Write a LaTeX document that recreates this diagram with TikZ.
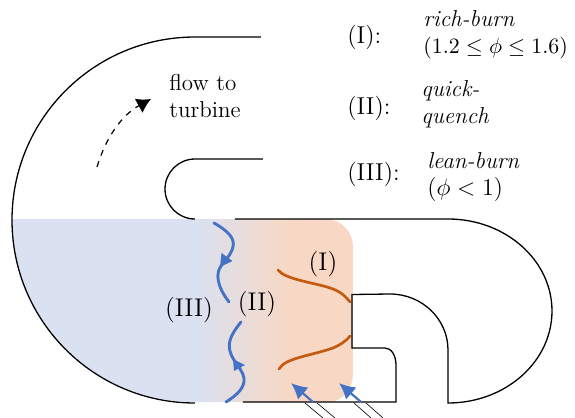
\documentclass[tikz,border=0pt]{standalone}
\usetikzlibrary{arrows.meta}
\definecolor{bl}{HTML}{DAE1F1}
\definecolor{orf}{HTML}{F8D8C5}
\definecolor{arrowblue}{HTML}{4472C4}
\definecolor{burn}{HTML}{C55A11}
\tikzset{wall/.style={line width=0.65pt,black},
 lab/.style={inner sep=0pt,font=\fontsize{11.5}{13.5}\selectfont},
 romanlab/.style={inner sep=0pt,font=\fontsize{12.2}{14}\selectfont},
 regionlab/.style={inner sep=0pt,font=\fontsize{12.8}{14}\selectfont},
 bluecurve/.style={draw=arrowblue,line width=1.45pt,line cap=round},
 burncurve/.style={draw=burn,line width=1.35pt,line cap=round},
 inlet/.style={line width=0.3pt,black},
 bluetip/.style={-{Latex[length=8pt,width=8pt]},draw=arrowblue,fill=arrowblue,line width=1.1pt}}
\begin{document}
\begin{tikzpicture}[x=0.5pt,y=-0.5pt]
\useasboundingbox (0,0) rectangle (575,418);
\begin{scope}
\clip (195,219) -- (12,219) arc[start angle=180,end angle=270,x radius=91.5pt,y radius=91.5pt] -- (328,402) .. controls (342,402) and (353,390) .. (353,373) -- (353,247) .. controls (353,232) and (342,219) .. (325,219) -- cycle;
\fill[bl] (0,219) rectangle (195.5,402);
\shade[left color=bl,right color=orf,shading=axis] (195,219) rectangle (290,402);
\fill[orf] (289.5,219) rectangle (360,402);
\end{scope}
\coordinate (topend) at (261,37);
\coordinate (topmid) at (195,37);
\draw[wall] (topend) -- (topmid) arc[start angle=90,delta angle=180,x radius=91.5pt,y radius=91.5pt];
\draw[wall] (263,159) -- (195,159) arc[start angle=90,delta angle=180,x radius=15pt,y radius=15pt];
\draw[wall] (235,219) -- (448,219) arc[start angle=90,end angle=-90,x radius=52pt,y radius=46pt] -- (448,350) arc[start angle=0,end angle=90,x radius=29pt,y radius=28pt] -- (352,294.5) -- (352,348) -- (385,348) .. controls (391,348) and (396,355) .. (396,365) -- (396,402) -- (243,402);
\draw[dashed,line width=0.6pt,-{Latex[length=7pt,width=8pt]}] (97,167) .. controls (106,137) and (122,115) .. (151,99);
\node[lab,align=left,anchor=west] (flow) at (169,96) {flow to\\turbine};
\node[romanlab,anchor=west] (l1) at (347,37) {(I):};
\node[lab,anchor=west,align=left] (t1) at (423,35) {\textit{rich-burn}\\\fontsize{11.35}{13.5}\selectfont$(1.2\leq\phi\leq1.6)$};
\node[romanlab,anchor=west] (l2) at (347,108) {(II):};
\node[lab,anchor=west,align=left] (t2) at (421,104) {\textit{quick-}\\\textit{quench}};
\node[romanlab,anchor=west] (l3) at (347,174) {(III):};
\node[lab,anchor=west,align=left] (t3) at (427,177) {\textit{lean-burn}\\$(\phi<1)$};
\node[regionlab] (r1) at (323,264) {(I)};
\node[regionlab] (r2) at (257,304) {(II)};
\node[regionlab] (r3) at (189,310) {(III)};
\draw[burncurve] (278,270) .. controls (285,279) and (310,282) .. (327,287) .. controls (337,290) and (343,293) .. (350,302);
\draw[burncurve] (279,369) .. controls (285,358) and (310,356) .. (333,348) .. controls (340,345) and (345,342) .. (350,336);
\draw[bluecurve] (214,223) .. controls (228,231) and (235,238) .. (233,247) .. controls (231,255) and (224,262) .. (221,266) .. controls (216,273) and (216,285) .. (229,302);
\draw[bluecurve] (226,402) .. controls (237,395) and (245,388) .. (244,378) .. controls (243,372) and (238,366) .. (234,360) .. controls (226,347) and (228,338) .. (241,322);
\fill[arrowblue] (220,267) -- (221.5,253) -- (232.5,261) -- cycle;
\fill[arrowblue] (233,359) -- (245,365) -- (234,371) -- cycle;
\coordinate (a1s) at (313,402); \coordinate (a1t) at (291,383);
\coordinate (a2s) at (361,402); \coordinate (a2t) at (339,383);
\draw[bluetip] (a1s) -- (a1t);
\draw[bluetip] (a2s) -- (a2t);
\draw[inlet] (305,403) -- (323,418) (317,403) -- (335,418) (354,403) -- (371,418) (366,403) -- (383,418);
\end{tikzpicture}
\end{document}
